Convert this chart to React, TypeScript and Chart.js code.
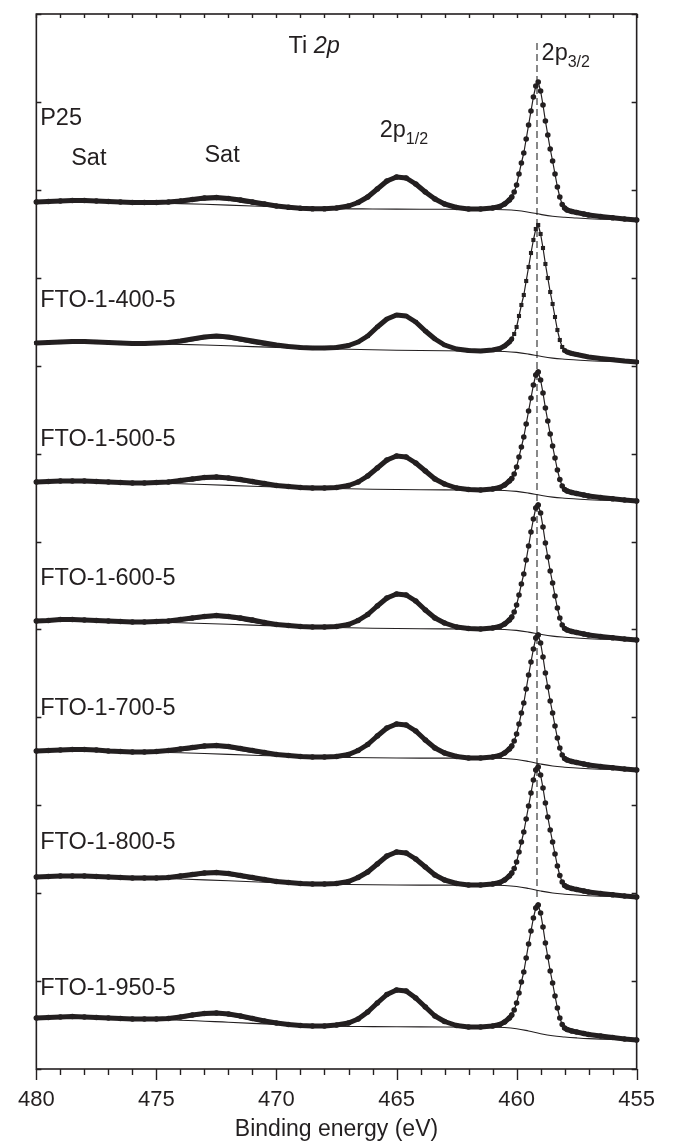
import React, { useEffect, useRef } from 'react';
import { Chart, registerables } from 'chart.js';

Chart.register(...registerables);

// Binding energies (eV) of the sampled spectrum points
const energies = [
  480, 479.5, 479, 478.5, 478, 477.5, 477, 476.5, 476, 475.5, 475, 474.5, 474, 473.5, 473, 472.5, 472, 471.5, 471, 470.5, 470, 469.5, 469, 468.5, 468, 467.5, 467,
  466.6, 466.2, 465.8, 465.4, 465, 464.6, 464.2, 463.8, 463.4, 463,
  462.5, 462, 461.5, 461,
  460.7, 460.5,
  460.3, 460.2, 460.1, 460, 459.9, 459.8, 459.7, 459.6, 459.5, 459.4, 459.3, 459.2, 459.1, 459, 458.9, 458.8, 458.7, 458.6, 458.5, 458.4, 458.3, 458.2, 458.1, 458, 457.9,
  457.7, 457.5, 457.2, 457, 456.5, 456, 455.5, 455,
];

// Shirley background energies
const bgEnergies = [480, 478, 476, 474, 472, 470, 468, 466, 464, 462, 461, 460.5, 460, 459.5, 459, 458.5, 458, 457.5, 457, 456, 455];
// satellite component energies
const satEnergies = [475, 474.5, 474, 473.5, 473, 472.5, 472, 471.5, 471, 470.5, 470];

const sampleNames = ['P25', 'FTO-1-400-5', 'FTO-1-500-5', 'FTO-1-600-5', 'FTO-1-700-5', 'FTO-1-800-5', 'FTO-1-950-5'];

// Intensities (a.u.) for each sample, same order as energies
const intP25 = [
  18, 18.5, 19, 19.5, 19.5, 19, 18.5, 18, 17.5, 17.5, 17.5, 18, 19, 20.5, 22, 22.5, 21.5, 20, 18, 16, 14, 12.8, 11.8, 11.2, 11.2, 12, 14,
  17.5, 23, 31, 39, 43, 42, 36, 28, 21, 16,
  12.5, 11, 11, 12,
  13.5, 16,
  20, 23, 28, 35, 46, 57, 67, 81, 95, 109, 123, 134, 138, 129, 115, 99, 85, 71, 59, 46, 33, 23, 15.5, 12, 10,
  8.5, 7.5, 6, 5, 3.5, 2.3, 1, 0,
];
const int400 = [
  19, 19.5, 20, 20.5, 20.5, 20, 19.5, 19, 18.5, 18.5, 19, 19.5, 21, 23, 25, 26, 25, 23, 21, 19, 17, 15.5, 14.5, 14, 14, 14.5, 16.5,
  20, 26, 35, 43, 47, 46, 40, 31, 23, 17,
  13, 11.5, 11, 12,
  13.5, 16,
  20, 23, 28, 35, 46, 57, 67, 81, 95, 109, 122, 133, 137, 128, 114, 98, 84, 70, 58, 45, 32, 22, 15, 11.5, 10,
  8.5, 7.5, 6, 5, 3.5, 2.3, 1, 0,
];
const int500 = [
  19, 19.5, 20, 20, 20, 19.5, 19, 18.5, 18, 18, 18.5, 19, 20.5, 22, 23.5, 24, 23, 21.5, 19.5, 17.5, 15.5, 14.5, 13.5, 13, 13, 13.5, 15.5,
  19, 25, 33, 41, 45, 44, 38, 30, 22, 17,
  13, 11.5, 11, 12,
  13.5, 16,
  20, 22.5, 27, 34, 44, 54, 64, 77, 90, 103, 116, 126, 129, 121, 108, 93, 80, 67, 55, 43, 31, 21.5, 15, 11.5, 10,
  8.5, 7.5, 6, 5, 3.5, 2.3, 1, 0,
];
const int600 = [
  19, 19.5, 20.5, 20.5, 20, 19.5, 19, 18.5, 18, 18, 18.5, 19, 20.5, 22, 23.5, 24.5, 23.5, 22, 20, 17.5, 15.5, 14.5, 13.5, 13, 13, 13.5, 15.5,
  19.5, 25.5, 34, 42, 46, 45, 39, 30, 22, 17,
  13, 11.5, 11, 12,
  13.5, 16,
  20, 23, 28, 35, 45, 56, 66, 80, 94, 108, 121, 132, 135, 127, 113, 97, 83, 69, 57, 44, 32, 22, 15, 11.5, 10,
  8.5, 7.5, 6, 5, 3.5, 2.3, 1, 0,
];
const int700 = [
  19, 19.5, 20, 20.5, 20.5, 20, 19, 18.5, 18, 18, 18.5, 19.5, 21, 22.5, 24, 24.5, 23.5, 21.5, 19.5, 17.5, 15.5, 14.5, 13.5, 13, 13, 13.5, 15.5,
  19.5, 25.5, 34, 42, 46, 45, 39, 30, 22, 17,
  13.5, 12, 12, 13,
  14.5, 17,
  21, 24, 29, 36, 46, 57, 67, 81, 95, 108, 121, 132, 135, 127, 113, 97, 83, 69, 57, 44, 32, 22, 15, 11.5, 10,
  8.5, 7.5, 6, 5, 3.5, 2.3, 1, 0,
];
const int800 = [
  20, 20.5, 21, 21, 21, 20.5, 20, 19.5, 19, 19, 19, 19.5, 21, 22.5, 24, 24.5, 23.5, 21.5, 19.5, 17.5, 15.5, 14.5, 13.5, 13, 13, 13.5, 15.5,
  19.5, 25, 33, 41, 45, 44, 38, 30, 22, 17,
  13.5, 12, 12, 13,
  14.5, 17,
  21, 24, 28.5, 35, 45, 55, 65, 78, 91, 104, 117, 127, 130, 122, 109, 94, 80, 67, 55, 43, 31, 21.5, 15, 11.5, 10,
  8.5, 7.5, 6, 5, 3.5, 2.3, 1, 0,
];
const int950 = [
  22, 22.5, 23, 23.5, 23, 22.5, 22, 21.5, 21, 21, 21, 21.5, 23, 25, 26.5, 27, 26, 24, 21.5, 19, 17, 15.5, 14.5, 14, 14, 15, 17,
  21, 28, 37, 45.5, 50, 49, 42, 33, 24, 18.5,
  14.5, 13, 13, 14,
  15.5, 18,
  22, 25, 30, 37, 47, 58, 68, 82, 96, 109, 122, 132, 135, 127, 113, 97, 83, 69, 57, 44, 32, 22, 15.5, 12, 10.5,
  9, 8, 6.5, 5.5, 4, 2.5, 1, 0,
];

// Backgrounds (same order as bgEnergies)
const bgP25 = [18, 17.8, 17.3, 16.4, 14.9, 13.2, 11.6, 11, 10.8, 10.6, 10.5, 10.3, 9.5, 7.8, 5.6, 3.8, 2.7, 2, 1.3, 0.5, 0];
const bg400 = [19, 18.8, 18.4, 17.6, 16.2, 14.6, 13.3, 12.2, 11.5, 11, 10.8, 10.5, 9.6, 7.9, 5.7, 3.9, 2.8, 2, 1.3, 0.5, 0];
const bg500 = [19, 18.8, 18.2, 17.2, 15.6, 14, 12.7, 11.8, 11.3, 11, 10.8, 10.5, 9.6, 7.9, 5.7, 3.9, 2.8, 2, 1.3, 0.5, 0];
const bg600 = [19, 18.8, 18.3, 17.3, 15.7, 14, 12.7, 11.8, 11.3, 11, 10.8, 10.5, 9.6, 7.9, 5.7, 3.9, 2.8, 2, 1.3, 0.5, 0];
const bg700 = [19, 18.8, 18.2, 17.2, 15.6, 14, 12.8, 12.2, 11.9, 11.8, 11.7, 11.5, 10.5, 8.5, 6, 4, 2.8, 2, 1.3, 0.5, 0];
const bg800 = [20, 19.8, 19.2, 18, 16.2, 14.3, 12.9, 12.2, 11.9, 11.8, 11.7, 11.5, 10.5, 8.5, 6, 4, 2.8, 2, 1.3, 0.5, 0];
const bg950 = [22, 21.7, 21, 19.8, 17.8, 15.6, 14, 13.4, 13.1, 12.9, 12.8, 12.5, 11.3, 9, 6.3, 4.2, 3, 2.1, 1.4, 0.5, 0];

// Satellite fit components (same order as satEnergies)
const satP25 = [16.8, 17, 17.5, 18.7, 20, 20.6, 19.7, 17.9, 15.9, 14.2, 13.2];
const sat400 = [18.2, 18.5, 19.5, 21.3, 23.2, 24, 23, 20.8, 18.6, 16.6, 15.2];
const sat500 = [17.8, 18, 18.8, 20.2, 21.8, 22.3, 21.3, 19.5, 17.4, 15.6, 14.3];
const sat600 = [17.8, 18, 18.8, 20.3, 22, 22.6, 21.6, 19.8, 17.6, 15.7, 14.3];
const sat700 = [17.8, 18.2, 19.2, 20.6, 22.2, 22.6, 21.6, 19.6, 17.5, 15.6, 14.3];
const sat800 = [18.5, 18.5, 19.2, 20.6, 22.2, 22.6, 21.6, 19.6, 17.5, 15.6, 14.3];
const sat950 = [20.5, 20.6, 21.5, 23.3, 25, 25.6, 24.4, 22.2, 19.8, 17.6, 16];

// Vertical stacking offsets of each spectrum (a.u.)
const stackOffsets = [849, 707, 568, 429, 299, 172, 29];
// Where each sample name sits above its spectrum (a.u. above offset)
const nameLift = [95, 55, 55, 55, 55, 48, 45];

const spectra = [intP25, int400, int500, int600, int700, int800, int950];
const backgrounds = [bgP25, bg400, bg500, bg600, bg700, bg800, bg950];
const satellites = [satP25, sat400, sat500, sat600, sat700, sat800, sat950];

const peakLineEnergy = 459.15;
const peakLineRange = [172, 1027];
const xMin = 455;
const xMax = 480;
const yMax = 1055;
const yDivisions = 12;

const INK = '#231f20';
const FONT = '"Liberation Sans", Arial, Helvetica, sans-serif';

type Note = { text: string; sub?: string; italicPart?: string; e: number; v: number };
const notes: Note[] = [
  { text: 'Ti ', italicPart: '2p', e: 469.5, v: 1016 },
  { text: '2p', sub: '3/2', e: 458.96, v: 1009 },
  { text: '2p', sub: '1/2', e: 465.7, v: 932 },
  { text: 'Sat', e: 478.55, v: 904 },
  { text: 'Sat', e: 473.0, v: 907 },
];

const decorPlugin = {
  id: 'decor',
  afterDraw(chart: any) {
    const { ctx, chartArea: a, scales } = chart;
    const x = scales.x;
    const y = scales.y;
    ctx.save();
    ctx.strokeStyle = INK;
    ctx.lineWidth = 1.6;
    ctx.strokeRect(a.left, a.top, a.right - a.left, a.bottom - a.top);
    ctx.lineWidth = 1.4;
    ctx.beginPath();
    for (let v = xMin; v <= xMax; v++) {
      const px = Math.round(x.getPixelForValue(v)) + 0.5;
      const len = v % 5 === 0 ? 11 : 6;
      ctx.moveTo(px, a.bottom);
      ctx.lineTo(px, a.bottom + len);
      ctx.moveTo(px, a.top);
      ctx.lineTo(px, a.top + 4);
    }
    for (let i = 0; i <= yDivisions; i++) {
      const py = Math.round(y.getPixelForValue((i * yMax) / yDivisions)) + 0.5;
      ctx.moveTo(a.left, py);
      ctx.lineTo(a.left + 5, py);
      ctx.moveTo(a.right, py);
      ctx.lineTo(a.right - 5, py);
    }
    ctx.stroke();

    ctx.fillStyle = INK;
    ctx.textBaseline = 'alphabetic';
    ctx.textAlign = 'left';
    const big = `23.5px ${FONT}`;
    const small = `16px ${FONT}`;
    const drawNote = (n: Note) => {
      const px = x.getPixelForValue(n.e);
      const py = y.getPixelForValue(n.v);
      ctx.font = big;
      ctx.fillText(n.text, px, py);
      const w = ctx.measureText(n.text).width;
      if (n.italicPart) {
        ctx.font = `italic 23.5px ${FONT}`;
        ctx.fillText(n.italicPart, px + w, py);
      }
      if (n.sub) {
        ctx.font = small;
        ctx.fillText(n.sub, px + w, py + 7);
      }
    };
    notes.forEach(drawNote);
    sampleNames.forEach((name, i) => {
      drawNote({ text: name, e: 479.84, v: stackOffsets[i] + nameLift[i] });
    });
    ctx.restore();
  },
};

export default function App() {
  const ref = useRef<HTMLCanvasElement | null>(null);
  useEffect(() => {
    document.body.style.margin = '0';
    const canvas = ref.current;
    if (!canvas) return;
    const datasets: any[] = [];
    spectra.forEach((vals, i) => {
      datasets.push({
        label: sampleNames[i],
        data: energies.map((e, k) => ({ x: e, y: stackOffsets[i] + vals[k] })),
        borderColor: INK,
        backgroundColor: INK,
        pointBackgroundColor: INK,
        pointBorderColor: INK,
        pointBorderWidth: 0,
        pointRadius: i === 1 ? 2.9 : 2.8,
        pointStyle: i === 1 ? 'rect' : 'circle',
        borderWidth: 5,
        segment: {
          borderWidth: (c: any) => {
            const dx = Math.abs(c.p1.x - c.p0.x) || 0.001;
            const dy = Math.abs(c.p1.y - c.p0.y);
            return dy / dx > 1.4 ? 1.2 : 5;
          },
        },
        borderJoinStyle: 'round',
        borderCapStyle: 'round',
        tension: 0,
        clip: false,
        order: 0,
      });
      datasets.push({
        label: sampleNames[i] + ' background',
        data: bgEnergies.map((e, k) => ({ x: e, y: stackOffsets[i] + backgrounds[i][k] })),
        borderColor: INK,
        borderWidth: 1.1,
        pointRadius: 0,
        tension: 0.4,
        order: 1,
      });
      datasets.push({
        label: sampleNames[i] + ' sat',
        data: satEnergies.map((e, k) => ({ x: e, y: stackOffsets[i] + satellites[i][k] })),
        borderColor: INK,
        borderWidth: 1.1,
        pointRadius: 0,
        tension: 0.4,
        order: 1,
      });
    });
    datasets.push({
      label: 'peak',
      data: [
        { x: peakLineEnergy, y: peakLineRange[0] },
        { x: peakLineEnergy, y: peakLineRange[1] },
      ],
      borderColor: '#3a3a3a',
      borderWidth: 1.2,
      borderDash: [7, 4],
      pointRadius: 0,
      order: 2,
    });

    const chart = new Chart(canvas, {
      type: 'line',
      data: { datasets },
      options: {
        responsive: false,
        animation: false,
        devicePixelRatio: 1,
        events: [],
        layout: { padding: { left: 30, right: 21, top: 14, bottom: 0 } },
        plugins: { legend: { display: false }, tooltip: { enabled: false } },
        scales: {
          x: {
            type: 'linear',
            min: xMin,
            max: xMax,
            reverse: true,
            afterFit: (s: any) => {
              s.height = 75;
            },
            grid: { display: false, drawTicks: false },
            border: { display: false },
            ticks: {
              stepSize: 1,
              autoSkip: false,
              maxRotation: 0,
              padding: 18,
              color: INK,
              font: { family: FONT, size: 22 },
              callback: (v: any) => (Number(v) % 5 === 0 ? String(v) : ''),
            },
            title: {
              display: true,
              text: 'Binding energy (eV)',
              color: INK,
              font: { family: FONT, size: 23 },
              padding: { top: 0, bottom: 1 },
            },
          },
          y: {
            type: 'linear',
            display: false,
            min: 0,
            max: yMax,
          },
        },
      },
      plugins: [decorPlugin],
    });
    return () => chart.destroy();
  }, []);
  return <canvas ref={ref} width={673} height={1144} style={{ display: 'block' }} />;
}
